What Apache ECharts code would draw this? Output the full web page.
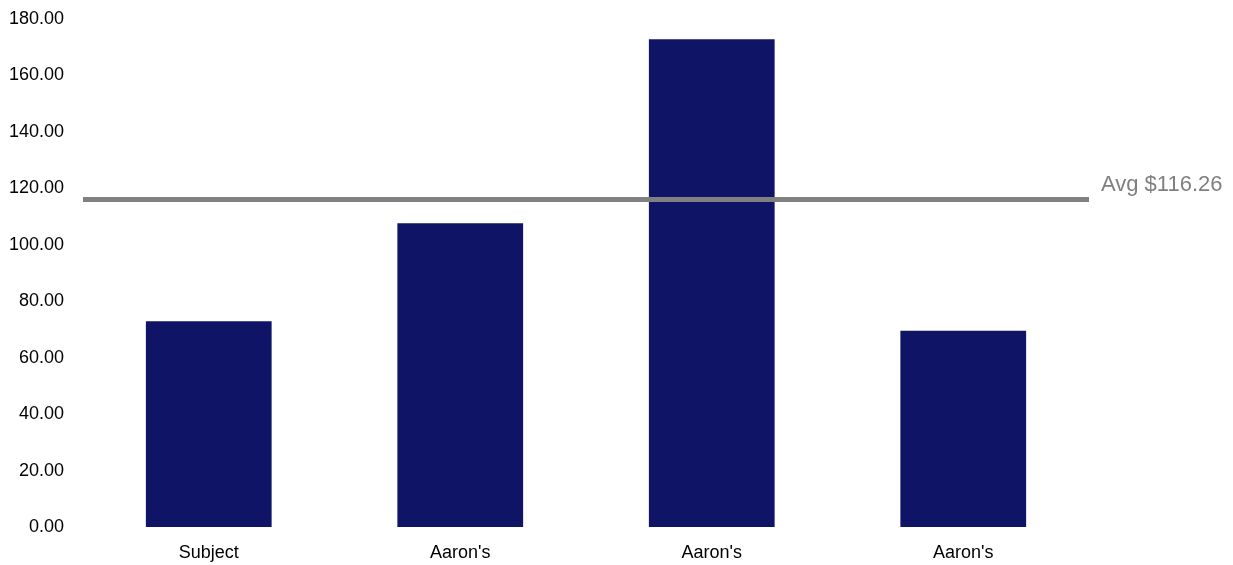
<!DOCTYPE html>
<html>
<head>
<meta charset="utf-8">
<script src="https://cdn.jsdelivr.net/npm/echarts@6/dist/echarts.min.js"></script>
<style>html,body{margin:0;padding:0;background:#fff}#c{width:1233px;height:565px}</style>
</head>
<body>
<div id="c"></div>
<script>
var categories = ["Subject", "Aaron's", "Aaron's", "Aaron's"];
var values = [72.9, 107.6, 172.8, 69.5];
var avgValue = 116.26;
var avgLabel = "Avg $116.26";
var yMin = 0, yMax = 180, yStep = 20;

var chart = echarts.init(document.getElementById('c'), null, {renderer: 'canvas'});
chart.setOption({
  animation: false,
  grid: {left: 83, right: 144, top: 19, bottom: 38, containLabel: false},
  xAxis: {
    type: 'category',
    data: categories,
    axisLine: {show: false},
    axisTick: {show: false},
    axisLabel: {color: '#000', fontSize: 18, fontFamily: 'Liberation Sans, Arial, sans-serif', margin: 17}
  },
  yAxis: {
    type: 'value',
    min: yMin, max: yMax, interval: yStep,
    axisLine: {show: false},
    axisTick: {show: false},
    splitLine: {show: false},
    axisLabel: {
      color: '#000', fontSize: 18, fontFamily: 'Liberation Sans, Arial, sans-serif', margin: 19,
      formatter: function (v) { return v.toFixed(2); }
    }
  },
  series: [{
    type: 'bar',
    data: values,
    barWidth: '50%',
    itemStyle: {color: '#0F1466'},
    markLine: {
      silent: true,
      symbol: ['none', 'none'],
      data: [{yAxis: avgValue}],
      lineStyle: {color: '#808080', width: 5, type: 'solid'},
      label: {
        show: true, position: 'end', formatter: avgLabel,
        color: '#808080', fontSize: 22, fontFamily: 'Liberation Sans, Arial, sans-serif',
        distance: 12, offset: [0, -14]
      }
    }
  }]
});
</script>
</body>
</html>
